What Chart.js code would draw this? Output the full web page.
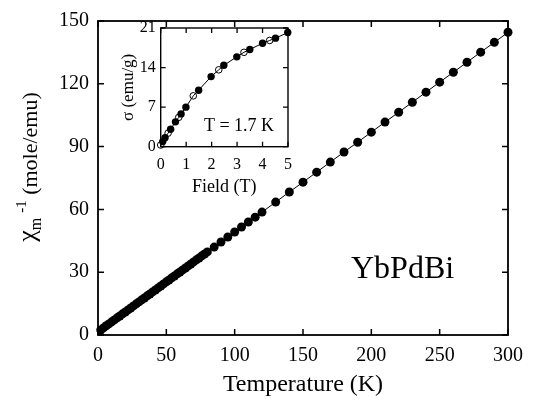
<!DOCTYPE html>
<html>
<head>
<meta charset="utf-8">
<script src="https://cdn.jsdelivr.net/npm/chart.js@4.4.0/dist/chart.umd.min.js"></script>
<style>
  body { margin: 0; background: #fff; }
  #wrap { position: relative; width: 535px; height: 413px; }
  #main { position: absolute; left: 0; top: 0; }
  #inset { position: absolute; left: 100px; top: 0; }
</style>
</head>
<body>
<div id="wrap">
  <canvas id="main" width="535" height="413"></canvas>
  <canvas id="inset" width="200" height="200"></canvas>
</div>
<script>
// main panel: inverse susceptibility vs temperature
const temps = [2, 4, 6, 8, 10, 12, 14, 16, 18, 20, 22, 24, 26, 28, 30, 32, 34, 36, 38, 40,
  42, 44, 46, 48, 50, 52, 54, 56, 58, 60, 62, 64, 66, 68, 70, 72, 74, 76, 78, 80,
  85, 90, 95, 100, 105, 110, 115, 120, 130, 140, 150, 160, 170, 180, 190, 200,
  210, 220, 230, 240, 250, 260, 270, 280, 290, 300];
const chiInv = [2.4, 3.4, 4.4, 5.3, 6.3, 7.2, 8.2, 9.1, 10.1, 11.0, 12.0, 12.9, 13.9, 14.9, 15.8, 16.8, 17.7, 18.7, 19.6, 20.6,
  21.5, 22.5, 23.4, 24.4, 25.4, 26.3, 27.3, 28.2, 29.2, 30.1, 31.1, 32.0, 33.0, 33.9, 34.9, 35.9, 36.8, 37.8, 38.7, 39.7,
  42.0, 44.4, 46.8, 49.2, 51.6, 54.0, 56.3, 58.7, 63.5, 68.3, 73.0, 77.8, 82.6, 87.4, 92.1, 96.9,
  101.7, 106.4, 111.2, 116.0, 120.8, 125.5, 130.3, 135.1, 139.8, 144.6];
const tempTicks = [0, 50, 100, 150, 200, 250, 300];
const chiTicks = [0, 30, 60, 90, 120, 150];

// inset: magnetization vs field at 1.7 K
const fieldFilled = [0.08, 0.17, 0.39, 0.58, 0.80, 0.99, 1.49, 1.98, 2.48, 2.99, 3.50, 4.00, 4.51, 4.99];
const sigmaFilled = [0.9, 1.6, 3.1, 4.4, 5.8, 7.0, 10.0, 12.4, 14.4, 15.9, 17.2, 18.3, 19.2, 20.2];
const fieldOpen = [0.0, 0.29, 0.71, 1.28, 2.28, 3.27, 4.28];
const sigmaOpen = [0.3, 2.4, 5.2, 9.0, 13.6, 16.7, 18.8];
const fieldTicks = [0, 1, 2, 3, 4, 5];
const sigmaTicks = [0, 7, 14, 21];

const serif = "'Liberation Serif', 'Times New Roman', serif";
Chart.defaults.color = '#000';
Chart.defaults.font.family = serif;

const toPts = (xs, ys) => xs.map((x, i) => ({ x: x, y: ys[i] }));

// frame + inward ticks on all four sides
const frameTicks = {
  id: 'frameTicks',
  afterDatasetsDraw(chart, args, opts) {
    const { ctx, chartArea: a, scales } = chart;
    ctx.save();
    ctx.strokeStyle = '#000';
    ctx.lineWidth = opts.width;
    ctx.strokeRect(a.left, a.top, a.right - a.left, a.bottom - a.top);
    ctx.lineWidth = opts.tickWidth;
    ctx.beginPath();
    scales.x.ticks.forEach(t => {
      const px = scales.x.getPixelForValue(t.value);
      ctx.moveTo(px, a.bottom); ctx.lineTo(px, a.bottom - opts.len);
      ctx.moveTo(px, a.top); ctx.lineTo(px, a.top + opts.len);
    });
    scales.y.ticks.forEach(t => {
      const py = scales.y.getPixelForValue(t.value);
      ctx.moveTo(a.left, py); ctx.lineTo(a.left + opts.len, py);
      ctx.moveTo(a.right, py); ctx.lineTo(a.right - opts.len, py);
    });
    ctx.stroke();
    ctx.restore();
  }
};

// free text labels
const labels = {
  id: 'labels',
  afterDraw(chart, args, opts) {
    const ctx = chart.ctx;
    ctx.save();
    ctx.fillStyle = '#000';
    ctx.textBaseline = 'alphabetic';
    (opts.items || []).forEach(it => {
      ctx.font = it.size + 'px ' + serif;
      ctx.textAlign = it.align || 'left';
      ctx.fillText(it.text, it.x, it.y);
    });
    if (opts.ytitle) {
      const yt = opts.ytitle;
      ctx.translate(yt.x, yt.y);
      ctx.rotate(-Math.PI / 2);
      ctx.textAlign = 'left';
      let total = 0;
      yt.parts.forEach(p => {
        ctx.font = p.size + 'px ' + serif;
        p.w = ctx.measureText(p.text).width;
        total += p.w;
      });
      let x = -total / 2;
      yt.parts.forEach(p => {
        ctx.font = p.size + 'px ' + serif;
        ctx.fillText(p.text, x, p.dy);
        x += p.w;
      });
    }
    ctx.restore();
  }
};

const setTicks = list => scale => { scale.ticks = list.map(v => ({ value: v })); };

new Chart(document.getElementById('main'), {
  type: 'scatter',
  data: {
    datasets: [{
      data: toPts(temps, chiInv),
      showLine: true,
      borderColor: '#000',
      borderWidth: 1,
      backgroundColor: '#000',
      pointBackgroundColor: '#000',
      pointBorderColor: '#000',
      pointRadius: 4.5,
      pointBorderWidth: 0,
      clip: false
    }]
  },
  options: {
    responsive: false,
    animation: false,
    layout: { padding: { left: 0, top: 12.5, right: 27, bottom: 0 } },
    plugins: {
      legend: { display: false },
      tooltip: { enabled: false },
      frameTicks: { width: 1.8, tickWidth: 1.5, len: 6 },
      labels: {
        items: [{ text: 'YbPdBi', x: 351, y: 278, size: 32 }],
        ytitle: {
          x: 37, y: 167,
          parts: [
            { text: 'χ', size: 26, dy: -2 },
            { text: 'm', size: 16, dy: 4 },
            { text: '  ', size: 10, dy: 0 },
            { text: '-1', size: 15, dy: -11 },
            { text: ' (mole/emu)', size: 22, dy: 0 }
          ]
        }
      }
    },
    scales: {
      x: {
        type: 'linear', min: 0, max: 300,
        afterBuildTicks: setTicks(tempTicks),
        afterFit: s => { s.height = 78; },
        grid: { display: false, drawTicks: false },
        border: { display: false },
        ticks: { padding: 9, font: { size: 20 } },
        title: { display: true, text: 'Temperature (K)', font: { size: 24 }, padding: { top: 0, bottom: 14 } }
      },
      y: {
        type: 'linear', min: 0, max: 150,
        afterBuildTicks: setTicks(chiTicks),
        afterFit: s => { s.width = 98; },
        grid: { display: false, drawTicks: false },
        border: { display: false },
        ticks: { padding: 9, font: { size: 20 } }
      }
    }
  },
  plugins: [frameTicks, labels]
});

const allInset = toPts(fieldFilled, sigmaFilled).concat(toPts(fieldOpen, sigmaOpen)).sort((p, q) => p.x - q.x);

new Chart(document.getElementById('inset'), {
  type: 'scatter',
  data: {
    datasets: [{
      data: allInset,
      showLine: true,
      borderColor: '#000',
      borderWidth: 1,
      pointRadius: 0,
      clip: false
    }, {
      data: toPts(fieldFilled, sigmaFilled),
      pointBackgroundColor: '#000',
      pointBorderColor: '#000',
      pointRadius: 3.7,
      pointBorderWidth: 0,
      clip: false
    }, {
      data: toPts(fieldOpen, sigmaOpen),
      pointBackgroundColor: '#fff',
      pointBorderColor: '#000',
      pointRadius: 3.3,
      pointBorderWidth: 1,
      clip: false
    }]
  },
  options: {
    responsive: false,
    animation: false,
    layout: { padding: { left: 0, top: 28, right: 8, bottom: 0 } },
    plugins: {
      legend: { display: false },
      tooltip: { enabled: false },
      frameTicks: { width: 1.4, tickWidth: 1.3, len: 5 },
      labels: { items: [{ text: 'T = 1.7 K', x: 139, y: 131, size: 18, align: 'center' }] }
    },
    scales: {
      x: {
        type: 'linear', min: 0, max: 5,
        afterBuildTicks: setTicks(fieldTicks),
        afterFit: s => { s.height = 53.3; },
        grid: { display: false, drawTicks: false },
        border: { display: false },
        ticks: { padding: 8, font: { size: 16 } },
        title: { display: true, text: 'Field (T)', font: { size: 18 }, padding: { top: 0, bottom: 2 } }
      },
      y: {
        type: 'linear', min: 0, max: 21,
        afterBuildTicks: setTicks(sigmaTicks),
        afterFit: s => { s.width = 60.7; },
        grid: { display: false, drawTicks: false },
        border: { display: false },
        ticks: { padding: 5, font: { size: 16 } },
        title: { display: true, text: 'σ (emu/g)', font: { size: 17 }, padding: { top: 18, bottom: 0 } }
      }
    }
  },
  plugins: [frameTicks, labels]
});
</script>
</body>
</html>
